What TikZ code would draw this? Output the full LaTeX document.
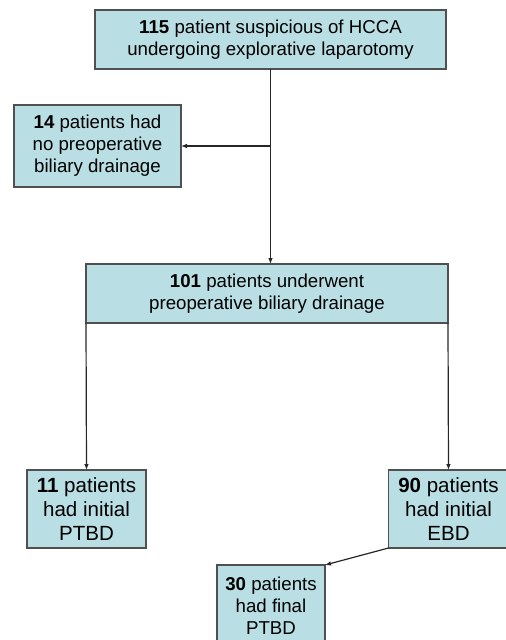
\documentclass[tikz,border=0pt]{standalone}
\usepackage{fontspec}
\setmainfont{Liberation Sans}
\usetikzlibrary{arrows,arrows.meta}
\definecolor{boxfill}{RGB}{185,222,228}
\definecolor{boxline}{RGB}{80,80,80}
\tikzset{
  flowbox/.style={draw=boxline, fill=boxfill, line width=0.9pt, inner sep=0pt, outer sep=0pt, align=center, font=\fontsize{14}{16.5}\selectfont},
  smallbox/.style={flowbox, font=\fontsize{15.4}{18}\selectfont},
  flowarrow/.style={-{Latex[length=4.5pt,width=3.5pt]}, line width=0.9pt, black!85}
}
\begin{document}
\begin{tikzpicture}[x=0.75pt,y=0.75pt,yscale=-1,xscale=1]
\useasboundingbox (0,0) rectangle (506,640);

%Shape: Rectangle
\node (suspicious) [flowbox, minimum width=263.25pt, minimum height=44.25pt] at (270.5,39.5) {\textbf{115} patient suspicious of HCCA\\undergoing explorative laparotomy};
%Shape: Rectangle
\node (nodrain) [flowbox, minimum width=125.25pt, minimum height=61.5pt] at (97.5,146) {\textbf{14} patients had\\no preoperative\\biliary drainage};
%Shape: Rectangle
\node (drain) [flowbox, minimum width=271.5pt, minimum height=44.25pt] at (267,293.5) {\textbf{101} patients underwent\\preoperative biliary drainage};
%Shape: Rectangle
\node (initptbd) [smallbox, minimum width=89.25pt, minimum height=58.5pt] at (86.5,509) {\textbf{11} patients\\had initial\\PTBD};
%Shape: Rectangle
\node (initebd) [smallbox, minimum width=90pt, minimum height=58.5pt] at (448.5,509) {\textbf{90} patients\\had initial\\EBD};
%Shape: Rectangle
\node (finalptbd) [flowbox, minimum width=81pt, minimum height=61.5pt] at (271,606) {\textbf{30} patients\\had final\\PTBD};

%Straight Lines
\coordinate (split) at (suspicious.south |- nodrain.east);
\draw [flowarrow] (suspicious.south) -- (suspicious.south |- drain.north);
%Straight Lines
\draw [flowarrow] (split) -- (nodrain.east);
%Straight Lines
\draw [flowarrow] (drain.south west) -- (initptbd.north);
%Straight Lines
\draw [flowarrow] (drain.south east) -- (initebd.north);
%Straight Lines
\draw [flowarrow] (initebd.south west) -- (finalptbd.north east);

\end{tikzpicture}
\end{document}
